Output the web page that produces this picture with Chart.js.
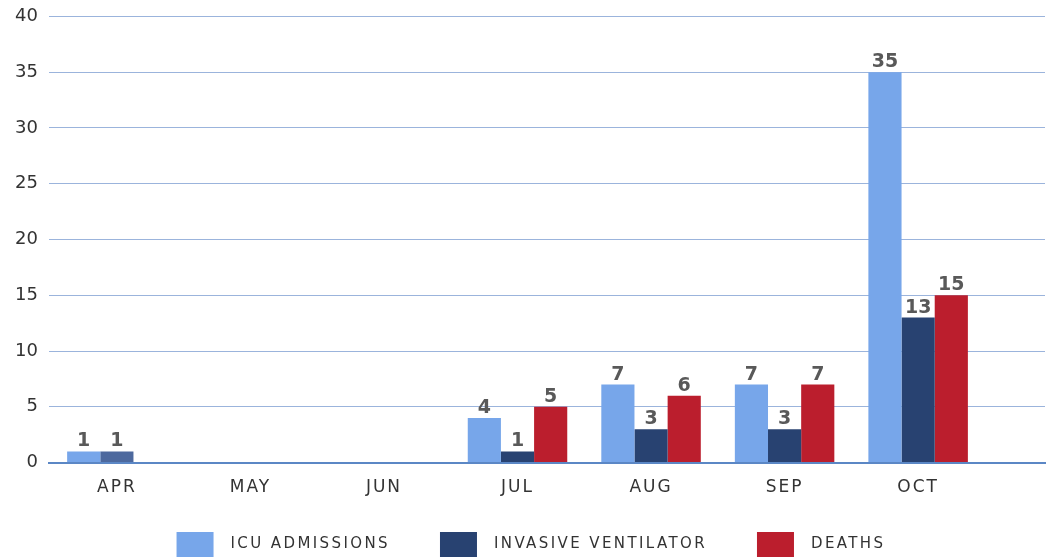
<!DOCTYPE html>
<html>
<head>
<meta charset="utf-8">
<script src="https://cdn.jsdelivr.net/npm/chart.js@4/dist/chart.umd.min.js"></script>
<style>
html,body{margin:0;padding:0;background:#fff;}
#wrap{width:1048px;height:558px;position:relative;}
</style>
</head>
<body>
<div id="wrap"><canvas id="c" width="1048" height="558"></canvas></div>
<script>
const months = ['APR','MAY','JUN','JUL','AUG','SEP','OCT'];
const icuAdmissions = [1,0,0,4,7,7,35];
const invasiveVentilator = [1,0,0,1,3,3,13];
const deaths = [0,0,0,5,6,7,15];
const yTicks = [0,5,10,15,20,25,30,35,40];

const FONT = '"DejaVu Sans"';
const canvas = document.getElementById('c');
const ctx0 = canvas.getContext('2d');
const protoFill = CanvasRenderingContext2D.prototype.fillText;
const protoMeasure = CanvasRenderingContext2D.prototype.measureText;
// letter spacing for the category (x) tick labels, which use a 17px font
const spacingFor = f => /\b17px/.test(f) ? '2px' : '0px';
[['fillText',protoFill],['measureText',protoMeasure]].forEach(([fn,orig])=>{
  ctx0[fn] = function(...args){
    const prev = ctx0.letterSpacing;
    ctx0.letterSpacing = spacingFor(ctx0.font);
    const r = orig.apply(ctx0, args);
    ctx0.letterSpacing = prev;
    return r;
  };
});

const toXY = arr => arr.map((v,i)=>({x:i,y:v}));
const legendColors = ['#77a6ea','#284271','#bb1e2d'];

const labelPlugin = {
  id:'valueLabels',
  afterDatasetsDraw(chart){
    const ctx = chart.ctx;
    ctx.save();
    ctx.font = 'bold 19px ' + FONT;
    ctx.fillStyle = '#595959';
    ctx.textAlign = 'center';
    ctx.textBaseline = 'alphabetic';
    chart.data.datasets.forEach((ds,di)=>{
      const meta = chart.getDatasetMeta(di);
      meta.data.forEach((el,i)=>{
        const v = ds.data[i].y;
        if (v>0) ctx.fillText(String(v), el.x, el.y-5);
      });
    });
    ctx.restore();
  }
};

const legendPlugin = {
  id:'customLegend',
  afterDraw(chart){
    const ctx = chart.ctx;
    ctx.save();
    ctx.font = '15px ' + FONT;
    ctx.letterSpacing = '2.4px';
    const boxW = 37, boxH = 25, boxGap = 17, itemGap = 50;
    const items = chart.data.datasets.map((ds,i)=>{
      const w = protoMeasure.call(ctx, ds.label).width;
      return {text:ds.label, w, color:legendColors[i]};
    });
    const total = items.reduce((s,it)=>s+boxW+boxGap+it.w,0) + itemGap*(items.length-1);
    let x = 531 - total/2;
    const boxTop = 532;
    items.forEach(it=>{
      ctx.fillStyle = it.color;
      ctx.fillRect(x, boxTop, boxW, boxH);
      ctx.fillStyle = '#333';
      ctx.textAlign = 'left';
      ctx.textBaseline = 'alphabetic';
      protoFill.call(ctx, it.text, x+boxW+boxGap, 548);
      x += boxW + boxGap + it.w + itemGap;
    });
    ctx.restore();
  }
};

new Chart(canvas,{
  type:'bar',
  data:{
    datasets:[
      {label:'ICU ADMISSIONS',data:toXY(icuAdmissions),backgroundColor:'#77a6ea'},
      {label:'INVASIVE VENTILATOR',data:toXY(invasiveVentilator),backgroundColor:invasiveVentilator.map((v,i)=>i===0?'#4d699e':'#284271')},
      {label:'DEATHS',data:toXY(deaths),backgroundColor:'#bb1e2d'}
    ]
  },
  options:{
    responsive:false,
    animation:false,
    layout:{padding:{left:4,right:3,top:-5,bottom:53}},
    datasets:{bar:{categoryPercentage:0.745,barPercentage:1.0}},
    plugins:{
      tooltip:{enabled:false},
      legend:{display:false}
    },
    scales:{
      x:{
        type:'linear',min:-0.509,max:6.95,offset:false,
        afterBuildTicks(s){ s.ticks = months.map((m,i)=>({value:i})); },
        grid:{display:false,offset:false},
        border:{display:true,color:'#5b87c5',width:2},
        ticks:{
          color:'#333',font:{family:FONT,size:17},padding:7,maxRotation:0,autoSkip:false,
          callback:(v)=>months[v]!==undefined?months[v]:''
        }
      },
      y:{
        min:0,max:40,
        afterBuildTicks(s){ s.ticks = yTicks.map(v=>({value:v})); },
        grid:{color:'#9bb4dc',lineWidth:1,drawTicks:false},
        border:{display:false},
        ticks:{color:'#333',font:{family:FONT,size:18,lineHeight:0.6},padding:11}
      }
    }
  },
  plugins:[labelPlugin, legendPlugin]
});
</script>
</body>
</html>
